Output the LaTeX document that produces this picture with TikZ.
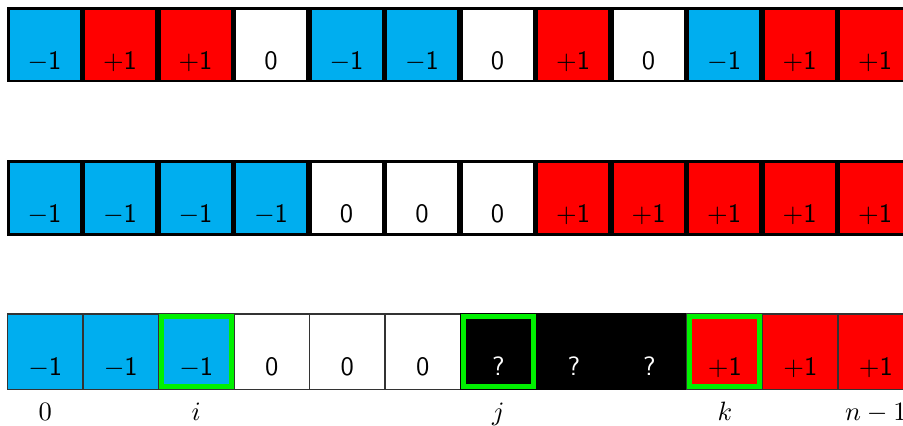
\documentclass[tikz,border=0pt]{standalone}
\usetikzlibrary{positioning}
\definecolor{negcol}{RGB}{0,174,239}
\definecolor{poscol}{RGB}{255,0,0}
\definecolor{hicol}{RGB}{0,240,0}
\newcommand{\cv}[1]{\textsf{#1}}
\tikzset{
  cellbox/.style={draw=black,line width=1.1pt,minimum size=0.965cm,inner sep=0pt},
  thincell/.style={line width=0.5pt,minimum size=1cm,inner sep=0pt},
  hilite/.style={draw=hicol,line width=1.9pt,minimum size=0.93cm,inner sep=0pt},
  val/.style={anchor=base,inner sep=0pt}
}
\begin{document}
\begin{tikzpicture}
\useasboundingbox (0,0) rectangle (11.96,5.63);
% first row
\foreach \c/\v [count=\i from 0] in {negcol/$-$\cv{1},poscol/$+$\cv{1},poscol/$+$\cv{1},white/\cv{0},negcol/$-$\cv{1},negcol/$-$\cv{1},white/\cv{0},poscol/$+$\cv{1},white/\cv{0},negcol/$-$\cv{1},poscol/$+$\cv{1},poscol/$+$\cv{1}}{
  \node[cellbox,fill=\c] (a\i) at (0.59+\i,5.04) {};
  \node[val] (av\i) at ([yshift=0.17cm]a\i.south) {\v};
}
% second row
\foreach \c/\v [count=\i from 0] in {negcol/$-$\cv{1},negcol/$-$\cv{1},negcol/$-$\cv{1},negcol/$-$\cv{1},white/\cv{0},white/\cv{0},white/\cv{0},poscol/$+$\cv{1},poscol/$+$\cv{1},poscol/$+$\cv{1},poscol/$+$\cv{1},poscol/$+$\cv{1}}{
  \node[cellbox,fill=\c] (b\i) at (0.59+\i,3.01) {};
  \node[val] (bv\i) at ([yshift=0.17cm]b\i.south) {\v};
}
% third row
\foreach \c/\v/\t/\d [count=\i from 0] in {negcol/$-$\cv{1}/black/black!80,negcol/$-$\cv{1}/black/black!80,negcol/$-$\cv{1}/black/black!80,white/\cv{0}/black/black!80,white/\cv{0}/black/black!80,white/\cv{0}/black/black!80,black/\cv{?}/white/black,black/\cv{?}/white/black,black/\cv{?}/white/black,poscol/$+$\cv{1}/black/black!80,poscol/$+$\cv{1}/black/black!80,poscol/$+$\cv{1}/black/black!80}{
  \node[thincell,draw=\d,fill=\c] (c\i) at (0.6+\i,0.97) {};
  \node[val,text=\t] (cv\i) at ([yshift=0.19cm]c\i.south) {\v};
}
\foreach \i in {2,6,9}
  \node[hilite] (h\i) at (c\i) {};
% indices
\foreach \i/\t in {0/0,2/i,6/j,9/k,11/n-1}
  \node[val] (idx\i) at (c\i.center |- 0,0.06) {$\t$};
\end{tikzpicture}
\end{document}
